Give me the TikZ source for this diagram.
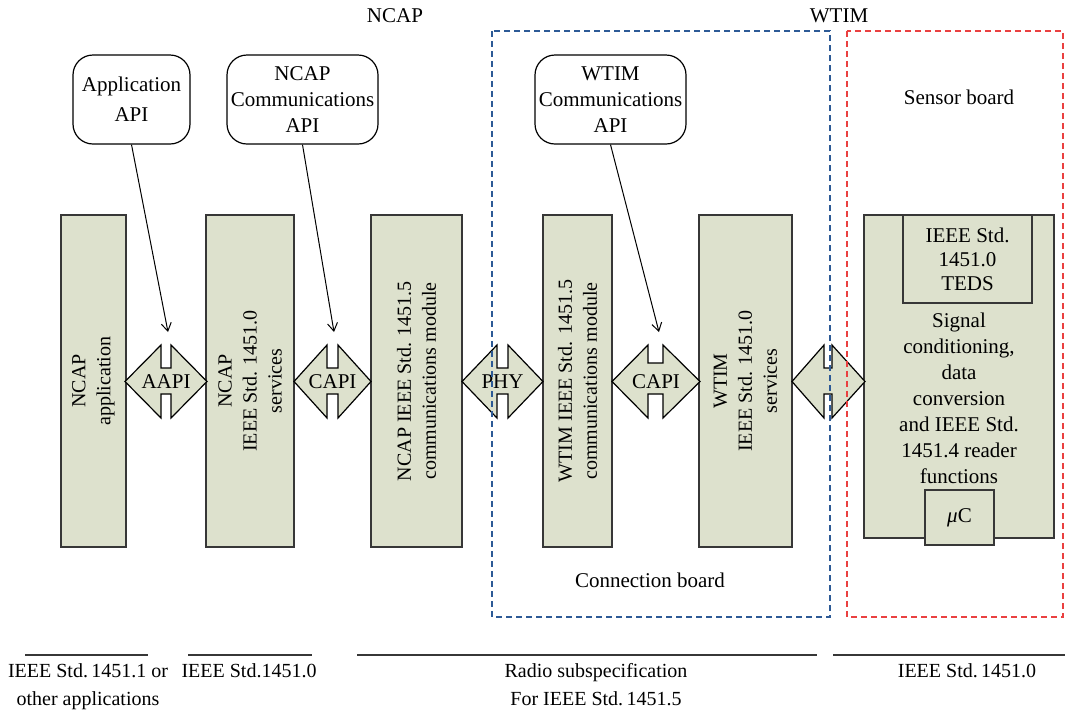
\documentclass[tikz,border=0pt]{standalone}
\usepackage{fontspec}
\setmainfont{Liberation Serif}
\usetikzlibrary{arrows.meta}
\definecolor{blkfill}{RGB}{221,225,205}
\definecolor{blkdraw}{RGB}{55,55,55}
\definecolor{dblue}{RGB}{45,90,150}
\definecolor{dred}{RGB}{234,64,64}
\newcommand\dconn[5]{% left tip, right tip, centre x, notch half width, stem top
  \filldraw[conn] (#1,381.5) -- (#3-#4,345) -- (#3-#4,#5) -- (#3+#4,#5) -- (#3+#4,345)
    -- (#2,381.5) -- (#3+#4,418) -- (#3+#4,394) -- (#3-#4,394) -- (#3-#4,418) -- cycle;}
\begin{document}
\begin{tikzpicture}[x=0.5pt,y=-0.5pt,
  font=\fontsize{10}{12}\selectfont,
  blk/.style={draw=blkdraw, line width=0.75pt, fill=blkfill, rotate=90,
    minimum width=166pt, inner sep=0pt, align=center,
    font=\fontsize{10}{12.5}\selectfont},
  api/.style={draw=black, line width=0.6pt, rounded corners=10pt, fill=white,
    minimum width=#1, minimum height=44.5pt, inner sep=0pt, align=center},
  conn/.style={draw=black, fill=blkfill, line width=0.6pt, line join=miter},
  apiarrow/.style={draw=black, line width=0.5pt, -{Straight Barb[length=4pt,width=5pt]}},
  plainbox/.style={draw=blkdraw, line width=0.75pt, fill=blkfill, inner sep=0pt},
  board/.style={line width=0.6pt, dash pattern=on 3pt off 2pt},
  specline/.style={draw=blkdraw, line width=0.75pt},
  lbl/.style={inner sep=0pt, align=center}
]
\useasboundingbox (0,0) rectangle (1065,714);

% top labels
\node[lbl, font=\fontsize{10.5}{12}\selectfont] (ncaplbl) at (395,16) {NCAP};
\node[lbl, font=\fontsize{10.5}{12}\selectfont] (wtimlbl) at (839,16) {WTIM};
\node[lbl, font=\fontsize{10.5}{12}\selectfont] (sensorlbl) at (959,97) {Sensor board};
\node[lbl, font=\fontsize{10.5}{12}\selectfont] (connlbl) at (650,580) {Connection board};

% API boxes
\node[api=58.5pt, font=\fontsize{10.5}{15}\selectfont] (appapi) at (131.5,99.5) {Application\\API};
\node[api=75.5pt, font=\fontsize{10.5}{13}\selectfont] (ncapapi) at (302.5,99.5) {NCAP\\Communications\\API};
\node[api=75.5pt, font=\fontsize{10.5}{13}\selectfont] (wtimapi) at (610.5,99.5) {WTIM\\Communications\\API};

% blocks
\node[blk, minimum height=32.5pt] (b1) at (93.5,381) {NCAP\\application};
\node[blk, minimum height=44pt] (b2) at (250,381) {NCAP\\IEEE Std. 1451.0\\services};
\node[blk, minimum height=45.5pt] (b3) at (416.5,381) {NCAP IEEE Std. 1451.5\\communications module};
\node[blk, minimum height=34.5pt] (b4) at (577.5,381) {WTIM IEEE Std. 1451.5\\communications module};
\node[blk, minimum height=46.5pt] (b5) at (745.5,381) {WTIM\\IEEE Std. 1451.0\\services};

% sensor board block
\node[plainbox, minimum width=95pt, minimum height=161.5pt] (sb) at (959,376.5) {};
\node[plainbox, minimum width=64.5pt, minimum height=44pt, align=center,
  font=\fontsize{10.5}{12}\selectfont] (teds) at (967.5,259) {IEEE Std.\\1451.0\\TEDS};
\node[lbl, font=\fontsize{10.5}{13}\selectfont] (sig) at (959,398)
  {Signal\\conditioning,\\data\\conversion\\and IEEE Std.\\1451.4 reader\\functions};
\node[plainbox, minimum width=34.5pt, minimum height=27.5pt, font=\fontsize{10.5}{12}\selectfont] (uc) at (959.5,517.5) {\textit{μ}C};

% connectors
\dconn{125}{207}{166}{5}{368}
\dconn{294}{371}{332.5}{5.5}{368}
\dconn{462}{543}{502.5}{5.5}{368}
\dconn{612}{700}{655.5}{7.5}{363}
\dconn{792}{865}{828}{4}{368}
\node[lbl, font=\fontsize{10.5}{12}\selectfont] (aapi) at (166,382) {AAPI};
\node[lbl, font=\fontsize{10.5}{12}\selectfont] (capi1) at (332.5,382) {CAPI};
\node[lbl, font=\fontsize{10.5}{12}\selectfont] (phy) at (502.5,382) {PHY};
\node[lbl, font=\fontsize{10.5}{12}\selectfont] (capi2) at (656,382) {CAPI};
\coordinate (ifc) at (828,381.5);

% API arrows
\coordinate (t1) at (168,332);
\coordinate (t2) at (334,332);
\coordinate (t3) at (659,332);
\draw[apiarrow] (appapi.south) -- (t1);
\draw[apiarrow] (ncapapi.south) -- (t2);
\draw[apiarrow] (wtimapi.south) -- (t3);

% boards
\draw[board, draw=dblue] (492,31) rectangle (830,617);
\draw[board, draw=dred] (847,31) rectangle (1063,617);

% specification lines
\coordinate (l1a) at (25,655);  \coordinate (l1b) at (148,655);
\coordinate (l2a) at (188,655); \coordinate (l2b) at (312,655);
\coordinate (l3a) at (357,655); \coordinate (l3b) at (817,655);
\coordinate (l4a) at (833,655); \coordinate (l4b) at (1065,655);
\draw[specline] (l1a) -- (l1b);
\draw[specline] (l2a) -- (l2b);
\draw[specline] (l3a) -- (l3b);
\draw[specline] (l4a) -- (l4b);
\node[lbl, font=\fontsize{10}{14}\selectfont, anchor=north] (s1) at (88,663) {IEEE Std.\,1451.1 or\\other applications};
\node[lbl, anchor=north] (s2) at (249,663) {IEEE Std.1451.0};
\node[lbl, font=\fontsize{10}{14}\selectfont, anchor=north] (s3) at (596,663) {Radio subspecification\\For IEEE Std.\,1451.5};
\node[lbl, anchor=north] (s4) at (967,663) {IEEE Std.\,1451.0};
\end{tikzpicture}
\end{document}
